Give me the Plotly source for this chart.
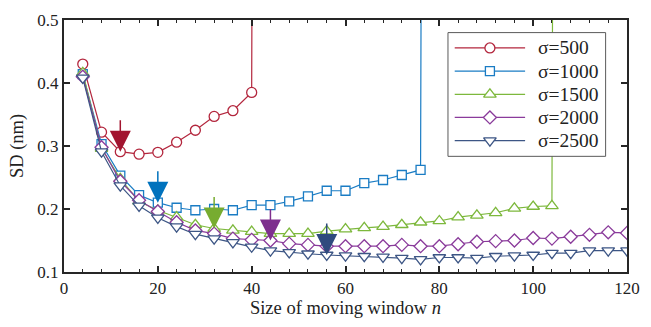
import plotly.graph_objects as go

# Moving-window size n (sampled every 4 points)
window_n = list(range(4, 124, 4))

# Standard deviation (nm) for each noise level; the last entry of the shorter
# series is where the estimate blows up and leaves the plotted range.
sd_500 = [0.430, 0.322, 0.291, 0.287, 0.290, 0.306, 0.325, 0.347, 0.356, 0.385,
          10.0]
sd_1000 = [0.414, 0.303, 0.253, 0.222, 0.210, 0.202, 0.198, 0.200, 0.198, 0.206,
           0.206, 0.212, 0.220, 0.229, 0.229, 0.241, 0.246, 0.254, 0.262,
           10.0]
sd_1500 = [0.416, 0.296, 0.248, 0.212, 0.198, 0.187, 0.175, 0.169, 0.166, 0.164,
           0.161, 0.161, 0.161, 0.165, 0.168, 0.170, 0.172, 0.175, 0.179, 0.181,
           0.187, 0.190, 0.194, 0.201, 0.204, 0.205,
           10.0]
sd_2000 = [0.410, 0.298, 0.244, 0.214, 0.196, 0.179, 0.166, 0.161, 0.153, 0.151,
           0.150, 0.145, 0.143, 0.141, 0.141, 0.141, 0.141, 0.143, 0.141, 0.141,
           0.144, 0.148, 0.149, 0.150, 0.154, 0.153, 0.156, 0.159, 0.163, 0.162]
sd_2500 = [0.408, 0.291, 0.237, 0.205, 0.186, 0.172, 0.160, 0.153, 0.147, 0.140,
           0.134, 0.131, 0.129, 0.127, 0.126, 0.125, 0.124, 0.122, 0.120, 0.123,
           0.123, 0.122, 0.125, 0.126, 0.127, 0.130, 0.130, 0.134, 0.134, 0.134]

series_names = ["σ=500", "σ=1000", "σ=1500", "σ=2000", "σ=2500"]
series_values = [sd_500, sd_1000, sd_1500, sd_2000, sd_2500]
# Window size chosen as optimal for each noise level
optimal_n = [12, 20, 32, 44, 56]

line_colors = ["#B3263D", "#1A7CC4", "#7DB83C", "#8A3B9B", "#3D5685"]
arrow_colors = ["#A2142F", "#0072BD", "#77AC30", "#7E2F8E", "#2F4A7E"]
symbols = ["circle", "square", "triangle-up", "diamond", "triangle-down"]
sizes = [10, 9, 11, 10, 11]

FONT = "Liberation Serif, Times New Roman, serif"
AXIS_COLOR = "#262626"
TEXT_COLOR = "#222"

fig = go.Figure()
for name, vals, col, sym, sz in zip(series_names, series_values, line_colors,
                                    symbols, sizes):
    fig.add_trace(go.Scatter(
        x=window_n[:len(vals)], y=vals, name=name, mode="lines+markers",
        line=dict(color=col, width=1.2),
        marker=dict(symbol=sym, size=sz, color="white",
                    line=dict(color=col, width=1.3)),
        cliponaxis=True, showlegend=False,
    ))

# Down arrows marking the optimal window size on each curve
for n_opt, vals, col in zip(optimal_n, series_values, arrow_colors):
    y_opt = vals[window_n.index(n_opt)]
    fig.add_annotation(
        x=n_opt, y=y_opt, xref="x", yref="y", text="", showarrow=True,
        ax=0, ay=-33, arrowhead=2, arrowsize=2.8, arrowwidth=1.5,
        arrowcolor=col, standoff=0,
    )

# Legend panel on an overlay subplot (x2/y2 span the plot area as 0..1),
# so it sits on top of the curves it covers.
LEG_X0, LEG_X1 = 0.682, 0.962
LEG_Y0, LEG_Y1 = 0.459, 0.950
ROW_TOP, ROW_STEP = 0.889, 0.0919
SAMPLE_X0, SAMPLE_X1, SAMPLE_MID = 0.694, 0.819, 0.7565
TEXT_X = 0.838

fig.add_trace(go.Scatter(
    x=[LEG_X0, LEG_X1, LEG_X1, LEG_X0, LEG_X0],
    y=[LEG_Y0, LEG_Y0, LEG_Y1, LEG_Y1, LEG_Y0],
    xaxis="x2", yaxis="y2", mode="lines", fill="toself", fillcolor="white",
    line=dict(color="#5a5a5a", width=1), showlegend=False, hoverinfo="skip",
))
for i, (name, col, sym, sz) in enumerate(zip(series_names, line_colors,
                                             symbols, sizes)):
    ry = ROW_TOP - i * ROW_STEP
    fig.add_trace(go.Scatter(
        x=[SAMPLE_X0, SAMPLE_X1], y=[ry, ry], xaxis="x2", yaxis="y2",
        mode="lines", line=dict(color=col, width=1.2),
        showlegend=False, hoverinfo="skip",
    ))
    fig.add_trace(go.Scatter(
        x=[SAMPLE_MID], y=[ry], xaxis="x2", yaxis="y2", mode="markers",
        marker=dict(symbol=sym, size=sz, color="white",
                    line=dict(color=col, width=1.3)),
        showlegend=False, hoverinfo="skip", cliponaxis=False,
    ))
    fig.add_annotation(x=TEXT_X, y=ry, xref="x domain", yref="y domain",
                       text=name, showarrow=False, xanchor="left",
                       yanchor="middle",
                       font=dict(family=FONT, size=19.5, color=TEXT_COLOR))

axis_common = dict(
    showline=True, linecolor=AXIS_COLOR, linewidth=2, mirror="ticks",
    ticks="inside", tickcolor=AXIS_COLOR, tickwidth=1.5,
    showgrid=False, zeroline=False,
    tickfont=dict(family=FONT, size=17, color=TEXT_COLOR),
)

fig.update_layout(
    width=651, height=327,
    margin=dict(l=64, r=11, t=13, b=55),
    paper_bgcolor="white", plot_bgcolor="white",
    font=dict(family=FONT, size=17, color=TEXT_COLOR),
    xaxis=dict(
        range=[0, 120], dtick=20, ticklen=6,
        minor=dict(dtick=4, ticks="inside", ticklen=3, tickcolor=AXIS_COLOR,
                   tickwidth=1.2),
        title=dict(text="Size of moving window <i>n</i>", standoff=4,
                   font=dict(family=FONT, size=18.5, color=TEXT_COLOR)),
        **axis_common,
    ),
    yaxis=dict(
        range=[0.1, 0.5], dtick=0.1, tickformat=".1f", ticklen=6,
        title=dict(text="SD (nm)", standoff=9,
                   font=dict(family=FONT, size=18.5, color=TEXT_COLOR)),
        **axis_common,
    ),
    xaxis2=dict(overlaying="x", range=[0, 1], visible=False,
                fixedrange=True),
    yaxis2=dict(overlaying="y", range=[0, 1], visible=False,
                fixedrange=True),
    showlegend=False,
)

fig.write_html("out.html")
